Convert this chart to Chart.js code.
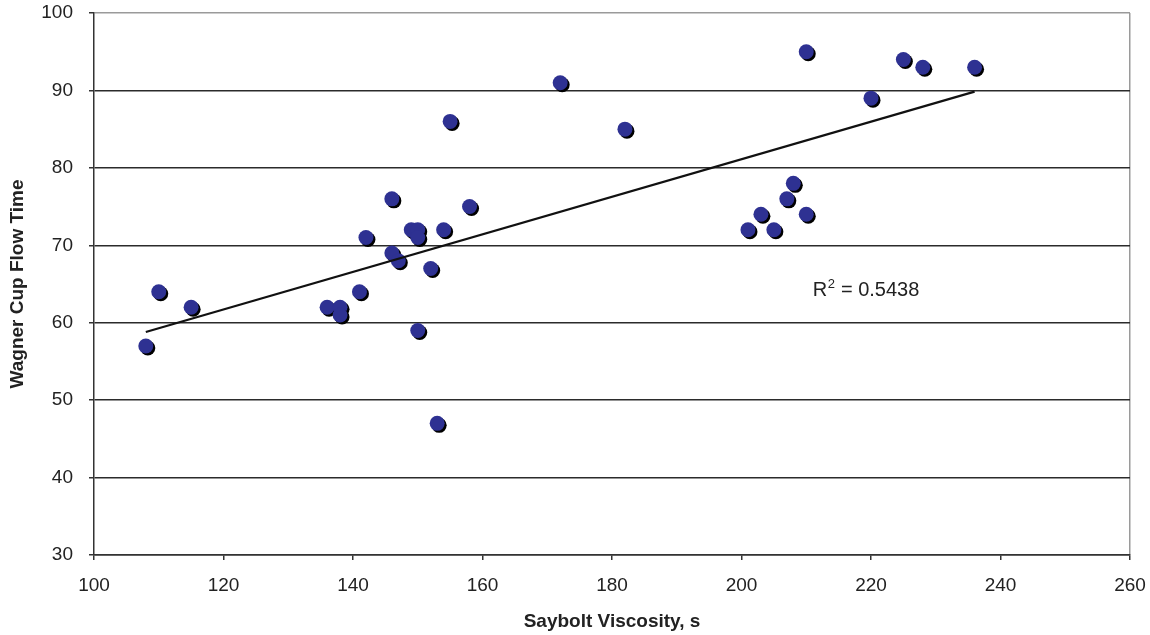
<!DOCTYPE html>
<html>
<head>
<meta charset="utf-8">
<script src="https://cdn.jsdelivr.net/npm/chart.js@4/dist/chart.umd.min.js"></script>
<style>
html, body { margin: 0; padding: 0; background: #fff; }
#wrap { width: 1150px; height: 635px; }
</style>
</head>
<body>
<div id="wrap"><canvas id="chart"></canvas></div>
<script>
// Saybolt viscosity (s) vs Wagner cup flow time
const saybolt = [108, 110, 115, 136, 138, 138, 141, 142, 146, 146, 147, 149, 150, 150, 150,
  152, 153, 154, 155, 158, 172, 182, 201, 203, 205, 207, 208, 210, 210, 220, 225, 228, 236];
const wagner = [57, 64, 62, 62, 62, 61, 64, 71, 76, 69, 68, 72, 72, 71, 59,
  67, 47, 72, 86, 75, 91, 85, 72, 74, 72, 76, 78, 74, 95, 89, 94, 93, 93];

// trend line ends as drawn
const trendX = [108, 236];
const trendY = [58.8, 89.85];
const rSquared = "0.5438";

const xTicks = [100, 120, 140, 160, 180, 200, 220, 240, 260];
const yTicks = [30, 40, 50, 60, 70, 80, 90, 100];

const points = saybolt.map((x, i) => ({ x: x, y: wagner[i] }));
const trend = trendX.map((x, i) => ({ x: x, y: trendY[i] }));

// black drop shadow under the dots
const shadowPlugin = {
  id: "shadow",
  beforeDatasetDraw(chart, args) {
    if (args.index !== 1) return;
    const ctx = chart.ctx;
    ctx.save();
    ctx.shadowColor = "#000";
    ctx.shadowOffsetX = 2;
    ctx.shadowOffsetY = 2;
    ctx.shadowBlur = 0;
  },
  afterDatasetDraw(chart, args) {
    if (args.index !== 1) return;
    chart.ctx.restore();
  }
};

// R² label
const rLabel = {
  id: "rlabel",
  afterDraw(chart) {
    const ctx = chart.ctx;
    const x = chart.scales.x.getPixelForValue(211);
    const y = chart.scales.y.getPixelForValue(64.1);
    ctx.save();
    ctx.fillStyle = "#222";
    ctx.textBaseline = "middle";
    ctx.textAlign = "left";
    ctx.font = "20px 'Liberation Sans', Arial, sans-serif";
    ctx.fillText("R", x, y);
    let w = ctx.measureText("R").width;
    ctx.font = "13px 'Liberation Sans', Arial, sans-serif";
    ctx.fillText("2", x + w + 0.5, y - 7);
    w += ctx.measureText("2").width + 1;
    ctx.font = "20px 'Liberation Sans', Arial, sans-serif";
    ctx.fillText(" = " + rSquared, x + w, y);
    ctx.restore();
  }
};

new Chart(document.getElementById("chart"), {
  data: {
    datasets: [
      {
        type: "line",
        data: trend,
        borderColor: "#111",
        borderWidth: 2.2,
        pointRadius: 0,
        fill: false
      },
      {
        type: "scatter",
        data: points,
        backgroundColor: "#2e3192",
        borderColor: "#2e3192",
        borderWidth: 0,
        pointRadius: 7.5
      }
    ]
  },
  options: {
    responsive: true,
    maintainAspectRatio: false,
    animation: false,
    layout: { padding: { top: 13, right: 20, left: 0, bottom: 0 } },
    plugins: {
      legend: { display: false },
      tooltip: { enabled: false }
    },
    scales: {
      x: {
        type: "linear",
        min: 100,
        max: 260,
        afterBuildTicks(scale) {
          scale.ticks = xTicks.map(v => ({ value: v }));
        },
        afterFit(scale) {
          scale.height = 80;
          scale.paddingLeft = 0;
          scale.paddingRight = 0;
        },
        grid: {
          color: ctx => (ctx.tick && ctx.tick.value === 260 ? "#9a9a9a" : "rgba(0,0,0,0)"),
          tickColor: "#333",
          tickLength: 5,
          lineWidth: 1.5
        },
        border: { color: "#333", width: 1.5 },
        ticks: {
          padding: 14,
          color: "#222",
          font: { family: "'Liberation Sans', Arial, sans-serif", size: 19 }
        },
        title: {
          display: true,
          text: "Saybolt Viscosity, s",
          color: "#222",
          padding: { top: 0, bottom: 2 },
          font: { family: "'Liberation Sans', Arial, sans-serif", size: 19, weight: "bold" }
        }
      },
      y: {
        type: "linear",
        min: 30,
        max: 100,
        afterBuildTicks(scale) {
          scale.ticks = yTicks.map(v => ({ value: v }));
        },
        afterFit(scale) {
          scale.width = 94;
          scale.paddingTop = 0;
          scale.paddingBottom = 0;
        },
        grid: {
          color: ctx => (ctx.tick && ctx.tick.value === 100 ? "#9a9a9a" : "#2b2b2b"),
          tickColor: "#333",
          tickLength: 5,
          lineWidth: 1.5
        },
        border: { color: "#333", width: 1.5 },
        ticks: {
          padding: 16,
          color: "#222",
          font: { family: "'Liberation Sans', Arial, sans-serif", size: 19 }
        },
        title: {
          display: true,
          text: "Wagner Cup Flow Time",
          color: "#222",
          padding: { top: 6, bottom: 0 },
          font: { family: "'Liberation Sans', Arial, sans-serif", size: 19, weight: "bold" }
        }
      }
    }
  },
  plugins: [shadowPlugin, rLabel]
});
</script>
</body>
</html>
